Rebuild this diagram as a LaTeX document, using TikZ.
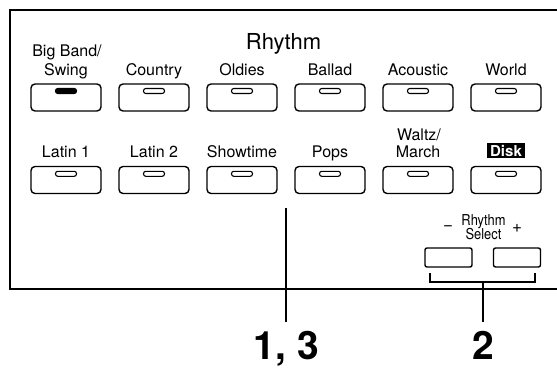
\documentclass[tikz,border=0pt]{standalone}
\usepackage{fontspec}
\setmainfont{TeX Gyre Heros}
\newfontfamily\condfont[FakeStretch=0.86]{TeX Gyre Heros}
\begin{document}
\begin{tikzpicture}[x=1pt,y=-1pt,
  btn/.style={draw,line width=1.4pt,rounded corners=4pt,minimum width=70pt,minimum height=27pt,inner sep=0pt},
  led/.style={draw,line width=1.1pt,rounded corners=2.3pt,minimum width=21pt,minimum height=5pt,inner sep=0pt},
  ledon/.style={led,fill=black},
  sbtn/.style={draw,line width=1.4pt,rounded corners=2pt,minimum width=47pt,minimum height=19pt,inner sep=0pt},
  lbl/.style={anchor=base,inner sep=0pt,font=\fontsize{16}{18}\selectfont},
  small/.style={anchor=base,inner sep=0pt,font=\condfont\fontsize{15}{16}\selectfont},
  sign/.style={anchor=center,inner sep=0pt,font=\fontsize{17}{17}\selectfont},
  big/.style={anchor=base,inner sep=0pt,font=\fontsize{39}{44}\selectfont\bfseries},
  frame/.style={line width=2pt},
  conn/.style={line width=1.6pt}
]
\useasboundingbox (0,0) rectangle (557,369);
% panel frame
\draw[frame] (557,10) -- (10,10) -- (10,289) -- (557,289);
% title
\node[anchor=base,inner sep=0pt,font=\fontsize{22}{24}\selectfont] (title) at (283.5,49.5) {Rhythm};
% row 1 buttons
\foreach \n/\x in {b1/66,b2/154,b3/242,b4/330,b5/418,b6/506}{
  \node[btn] (\n) at (\x,97.5) {};
}
\node[ledon] (l1) at (66,91) {};
\foreach \n/\x in {l2/154,l3/242,l4/330,l5/418,l6/506}{
  \node[led] (\n) at (\x,91) {};
}
% row 2 buttons
\foreach \n/\x in {c1/66,c2/154,c3/242,c4/330,c5/418,c6/506}{
  \node[btn] (\n) at (\x,180) {};
}
\foreach \n/\x in {m1/66,m2/154,m3/242,m4/330,m5/418,m6/506}{
  \node[led] (\n) at (\x,173.8) {};
}
% row 1 labels
\node[lbl] (t1a) at (67,57) {Big Band/};
\node[lbl] (t1b) at (66,75.5) {Swing};
\node[lbl] (t2) at (154,75.5) {Country};
\node[lbl] (t3) at (242,75.5) {Oldies};
\node[lbl] (t4) at (330,75.5) {Ballad};
\node[lbl] (t5) at (418,75.5) {Acoustic};
\node[lbl] (t6) at (506,75.5) {World};
% row 2 labels
\node[lbl] (u1) at (66,157) {Latin 1};
\node[lbl] (u2) at (154,157) {Latin 2};
\node[lbl] (u3) at (242,157) {Showtime};
\node[lbl] (u4) at (330,157) {Pops};
\node[lbl] (u5a) at (419,140) {Waltz/};
\node[lbl] (u5b) at (418,157) {March};
\node[fill=black,text=white,inner sep=0pt,minimum width=38pt,minimum height=15.5pt,font=\fontsize{15}{16}\selectfont\bfseries] (u6) at (506,150.5) {Disk};
% rhythm select
\node[small] (rs1) at (483.5,225) {Rhythm};
\node[small] (rs2) at (483.5,239.5) {Select};
\node[sign] (minus) at (448,228) {−};
\node[sign] (plus) at (517,228.5) {+};
\node[sbtn] (s1) at (448.5,257.5) {};
\node[sbtn] (s2) at (517,257.5) {};
% callouts
\node[big] (n13) at (286.5,359) {1, 3};
\node[big] (n2) at (483,359) {2};
\coordinate (top13) at (286,208);
\coordinate (bl) at (430,273);
\coordinate (br) at (535,273);
\coordinate (bm) at (483,282);
\draw[conn] (top13) -- (top13 |- 0,322);
\draw[conn] (bl) -- (430,282) -- (535,282) -- (br);
\draw[conn] (bm) -- (483,322);
\end{tikzpicture}
\end{document}
